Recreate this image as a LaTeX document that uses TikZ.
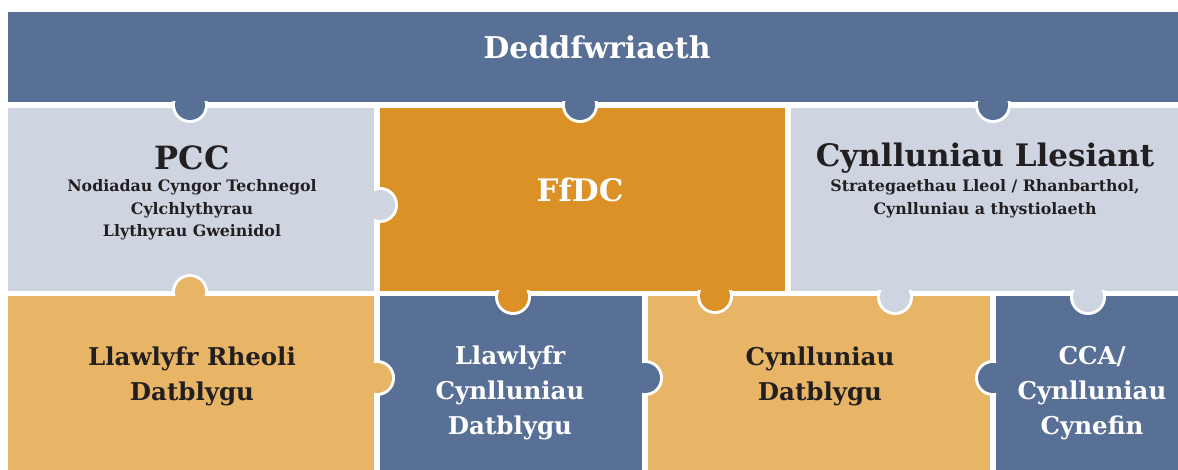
\documentclass[tikz,border=0pt]{standalone}
\usepackage{fontspec}
\setmainfont{DejaVu Serif}
\definecolor{pblue}{RGB}{89,112,150}
\definecolor{pgray}{RGB}{206,213,225}
\definecolor{porange}{RGB}{219,145,38}
\definecolor{plight}{RGB}{232,181,102}
\definecolor{ptext}{RGB}{35,31,32}
\newcommand\pzknob[7]{%
  \begin{scope}\clip (#4,#5) rectangle (#6,#7); \fill[white] (#1,#2) circle (18pt); \end{scope}
  \fill[#3] (#1,#2) circle (15pt);}
\tikzset{
  bigtxt/.style={font=\bfseries\fontsize{31}{34}\selectfont, align=center, inner sep=0pt},
  midtxt/.style={font=\bfseries\fontsize{24.5}{35}\selectfont, align=center, inner sep=0pt},
  smalltxt/.style={font=\bfseries\fontsize{15.8}{22.5}\selectfont, align=center, inner sep=0pt},
}
\begin{document}
\begin{tikzpicture}[x=1pt,y=-1pt]
\useasboundingbox (0,0) rectangle (1178,470);
\fill[white] (0,0) rectangle (1178,470);
% pieces
\fill[pblue]   (8,12)   rectangle (1178,102);
\fill[pgray]   (8,108)  rectangle (374,291);
\fill[porange] (380,108) rectangle (785,291);
\fill[pgray]   (791,108) rectangle (1178,291);
\fill[plight]  (8,296)  rectangle (374,470);
\fill[pblue]   (380,296) rectangle (642,470);
\fill[plight]  (648,296) rectangle (990,470);
\fill[pblue]   (996,296) rectangle (1178,470);
% knobs
\pzknob{190}{105}{pblue}{0}{102}{1178}{300}
\pzknob{580}{105}{pblue}{0}{102}{1178}{300}
\pzknob{993}{105}{pblue}{0}{102}{1178}{300}
\pzknob{380}{205}{pgray}{374}{100}{785}{291}
\pzknob{190}{292}{plight}{0}{100}{374}{296}
\pzknob{377}{378}{plight}{374}{296}{642}{470}
\pzknob{513}{297}{porange}{380}{291}{642}{470}
\pzknob{715}{296}{porange}{648}{291}{990}{470}
\pzknob{645}{378}{pblue}{642}{296}{990}{470}
\pzknob{895}{297}{pgray}{648}{291}{990}{470}
\pzknob{1088}{297}{pgray}{990}{291}{1178}{470}
\pzknob{993}{378}{pblue}{648}{296}{996}{470}
% texts
\node[bigtxt, text=white, font=\bfseries\fontsize{30}{34}\selectfont] (law) at (597,47) {Deddfwriaeth};
\node[bigtxt, text=ptext, font=\bfseries\fontsize{32}{34}\selectfont] (pcc) at (192,158) {PCC};
\node[smalltxt, text=ptext] (pccsub) at (192,210) {Nodiadau Cyngor Technegol\\Cylchlythyrau\\Llythyrau Gweinidol};
\node[bigtxt, text=white] (ffdc) at (580,190) {FfDC};
\node[bigtxt, text=ptext] (lles) at (985,158) {Cynlluniau Llesiant};
\node[smalltxt, text=ptext] (llessub) at (985,199) {Strategaethau Lleol / Rhanbarthol,\\Cynlluniau a thystiolaeth};
\node[midtxt, text=ptext] (lrd) at (192,376) {Llawlyfr Rheoli\\Datblygu};
\node[midtxt, text=white] (lcd) at (510,393) {Llawlyfr\\Cynlluniau\\Datblygu};
\node[midtxt, text=ptext] (cd) at (820,376) {Cynlluniau\\Datblygu};
\node[midtxt, text=white] (cca) at (1092,393) {CCA/\\Cynlluniau\\Cynefin};
\end{tikzpicture}
\end{document}
